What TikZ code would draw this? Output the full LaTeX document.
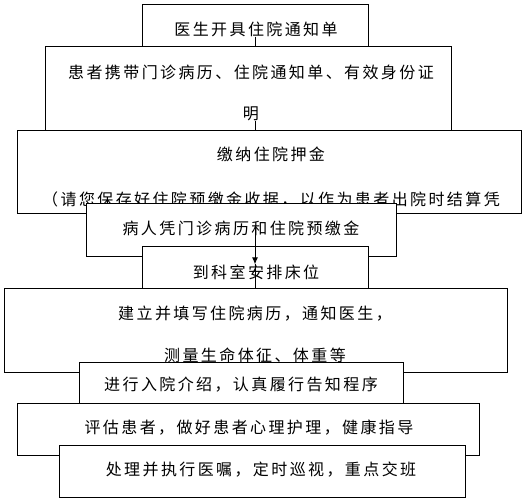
\documentclass[tikz,border=0pt]{standalone}
\usepackage{fontspec}
\newfontfamily\cjk[LetterSpace=15]{Noto Sans CJK SC}
\usetikzlibrary{arrows.meta}
\tikzset{
  box/.style={draw,fill=white,line width=0.9pt,inner sep=0pt},
  txt/.style={inner sep=0pt,align=center,font=\cjk\fontsize{16}{20}\selectfont},
  link/.style={line width=0.9pt},
}
\begin{document}
\begin{tikzpicture}[x=1pt,y=-1pt]
\useasboundingbox (0,0) rectangle (531,501);

\node[box,minimum width=226,minimum height=51] (b1) at (255,29.5) {};
\node[txt] (t1) at (256,29) {医生开具住院通知单};

\node[box,minimum width=406,minimum height=94] (b2) at (248,93) {};
\node[txt,font=\cjk\fontsize{16}{41}\selectfont] (t2) at (251,92.5) {患者携带门诊病历、住院通知单、有效身份证\\明};
\draw[link] (t1.south -| b1) -- (b1 |- b2.north);

\node[box,minimum width=504,minimum height=83] (b3) at (269,171.5) {};
\node[txt,font=\cjk\fontsize{16}{45}\selectfont] (t3) at (271,177.5) {缴纳住院押金\\（请您保存好住院预缴金收据，以作为患者出院时结算凭};
\draw[link] (t2.south -| b1) -- (b1 |- b3.north);

\node[box,minimum width=310,minimum height=53] (b4) at (241,229.5) {};
\node[txt] (t4) at (241,228) {病人凭门诊病历和住院预缴金};

\node[box,minimum width=226,minimum height=49] (b5) at (255,270.5) {};
\node[txt] (t5) at (256,272) {到科室安排床位};
\draw[link,-{Latex[length=7pt,width=6pt]}] (b5 |- t4) -- (b5 |- t5.north);

\node[box,minimum width=503,minimum height=84] (b6) at (255.5,330) {};
\node[txt,font=\cjk\fontsize{16}{42}\selectfont] (t6) at (255,334) {建立并填写住院病历，通知医生，\\测量生命体征、体重等};
\draw[link] (b5 |- t5.north) -- (b5 |- b6.north);

\node[box,minimum width=324,minimum height=48] (b7) at (241,386) {};
\node[txt] (t7) at (241,385) {进行入院介绍，认真履行告知程序};

\node[box,minimum width=462,minimum height=52] (b8) at (248,429) {};
\node[txt] (t8) at (249,428) {评估患者，做好患者心理护理，健康指导};

\node[box,minimum width=406,minimum height=52] (b9) at (262,471) {};
\node[txt] (t9) at (261,470) {处理并执行医嘱，定时巡视，重点交班};
\end{tikzpicture}
\end{document}
